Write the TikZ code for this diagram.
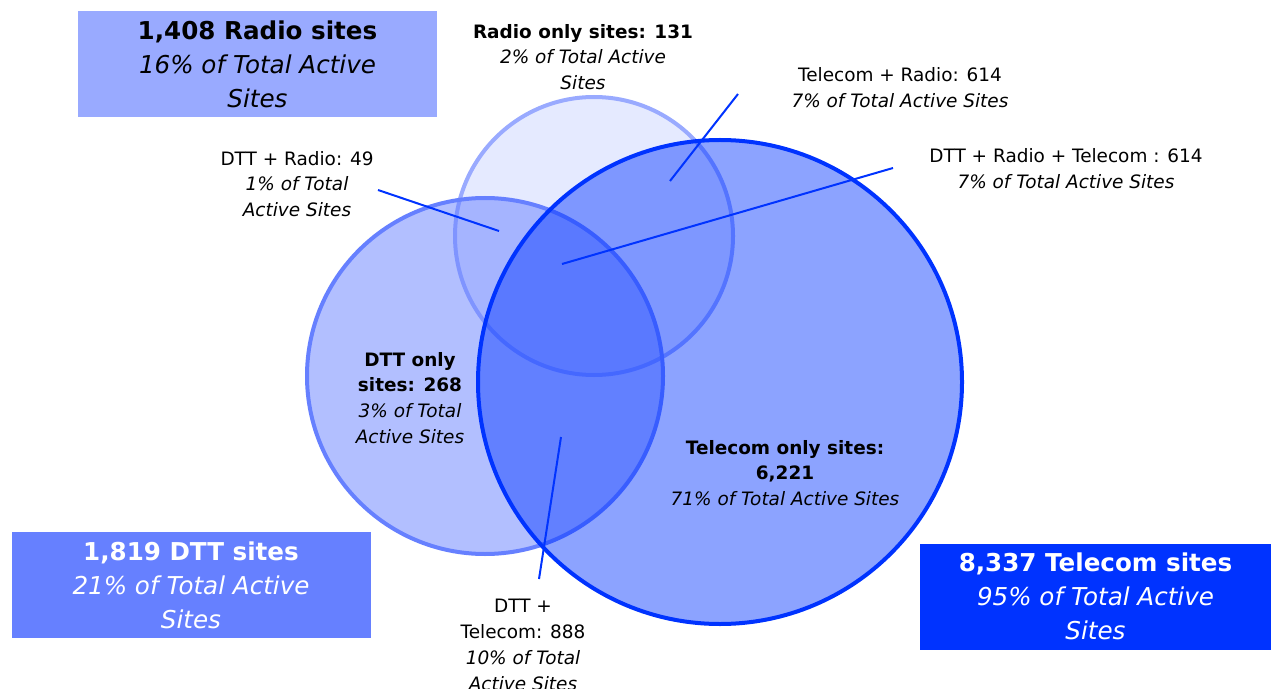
\documentclass[tikz,border=0pt]{standalone}
\usepackage{fontspec}
\setmainfont{DejaVu Sans}
\usetikzlibrary{positioning}
\definecolor{radioblue}{HTML}{99AAFF}
\definecolor{dttblue}{HTML}{6680FF}
\definecolor{telblue}{HTML}{0033FF}

\begin{document}
\begin{tikzpicture}[x=0.02cm, y=-0.02cm,
  radioset/.style={draw=radioblue, line width=4*0.02cm, fill=radioblue, fill opacity=0.25},
  dttset/.style={draw=dttblue, line width=4*0.02cm, fill=dttblue, fill opacity=0.5},
  telset/.style={draw=telblue, line width=4*0.02cm, fill=telblue, fill opacity=0.45},
  lbl/.style={align=center, font=\fontsize{10.5}{14.7}\selectfont, inner sep=0pt},
  total/.style={align=center, font=\fontsize{14}{19.3}\selectfont, inner sep=0pt,
    minimum width=359*0.02cm, minimum height=106*0.02cm},
  leader/.style={draw=telblue, line width=2*0.02cm}]
\useasboundingbox (0,0) rectangle (1271,689);

% the three sets
\path[radioset] (594,236) circle [radius=139];
\path[dttset] (485,376) circle [radius=178];
\path[telset] (720,382) circle [radius=242];

% totals
\node[total, fill=radioblue] (radio) at (257.5,64) {\textbf{1,408 Radio sites}\\\textit{16\% of Total Active}\\\textit{Sites}};
\node[total, fill=dttblue, text=white] (dtt) at (191,585) {\textbf{1,819 DTT sites}\\\textit{21\% of Total Active}\\\textit{Sites}};
\node[total, fill=telblue, text=white, minimum width=351*0.02cm] (tel) at (1095.5,596.5) {\textbf{8,337 Telecom sites}\\\textit{95\% of Total Active}\\\textit{Sites}};

% region labels
\node[lbl] (radioonly) at (583,57) {\textbf{Radio only sites: 131}\\\textit{2\% of Total Active}\\\textit{Sites}};
\node[lbl] (telradio) at (900,88) {Telecom + Radio: 614\\\textit{7\% of Total Active Sites}};
\node[lbl] (allthree) at (1066,169) {DTT + Radio + Telecom : 614\\\textit{7\% of Total Active Sites}};
\node[lbl] (dttradio) at (297,184) {DTT + Radio: 49\\\textit{1\% of Total}\\\textit{Active Sites}};
\node[lbl] (dttonly) at (410,398) {\textbf{DTT only}\\\textbf{sites: 268}\\\textit{3\% of Total}\\\textit{Active Sites}};
\node[lbl] (dtttel) at (523,645) {DTT +\\Telecom: 888\\\textit{10\% of Total}\\\textit{Active Sites}};
\node[lbl] (telonly) at (785,473) {\textbf{Telecom only sites:}\\\textbf{6,221}\\\textit{71\% of Total Active Sites}};

% leader lines
\coordinate (tr1) at (738,94);  \coordinate (tr2) at (670,181);
\coordinate (at1) at (893,168); \coordinate (at2) at (562,264);
\coordinate (dr1) at (378,190); \coordinate (dr2) at (499,231);
\coordinate (dt1) at (561,437); \coordinate (dt2) at (539,579);
\draw[leader] (tr1) -- (tr2);
\draw[leader] (at1) -- (at2);
\draw[leader] (dr1) -- (dr2);
\draw[leader] (dt1) -- (dt2);
\end{tikzpicture}
\end{document}
